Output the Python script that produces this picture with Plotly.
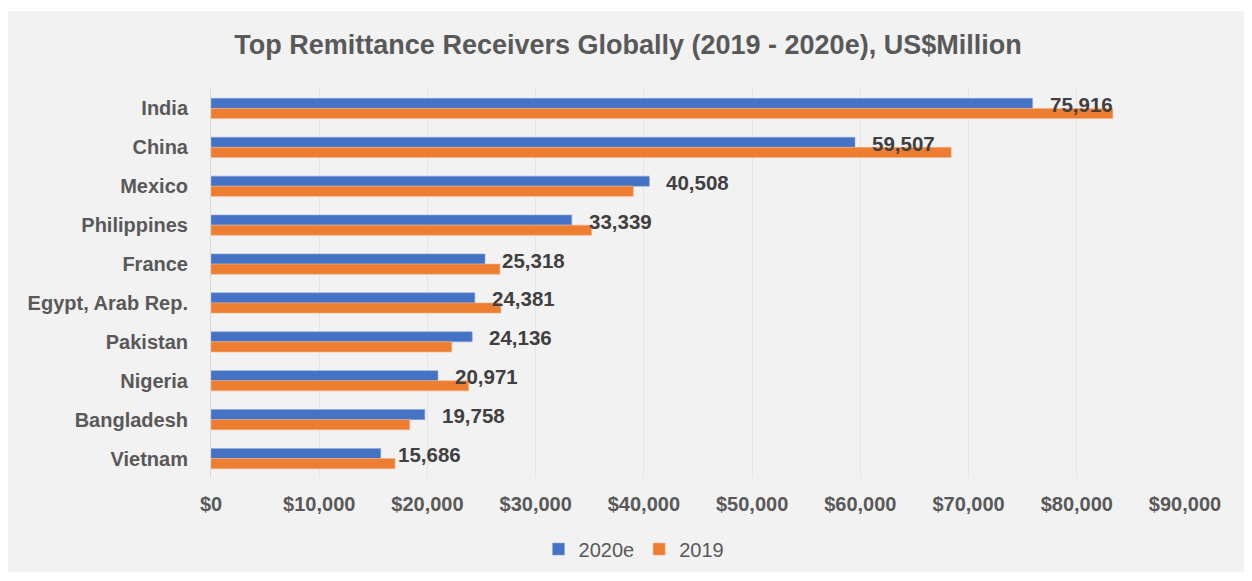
import plotly.graph_objects as go

countries = ["India", "China", "Mexico", "Philippines", "France", "Egypt, Arab Rep.",
             "Pakistan", "Nigeria", "Bangladesh", "Vietnam"]
values_2020e = [75916, 59507, 40508, 33339, 25318, 24381, 24136, 20971, 19758, 15686]
values_2019 = [83332, 68398, 39022, 35167, 26700, 26781, 22252, 23809, 18364, 17000]
x_tickvals = [0, 10000, 20000, 30000, 40000, 50000, 60000, 70000, 80000, 90000]
x_ticktext = ["$0", "$10,000", "$20,000", "$30,000", "$40,000", "$50,000",
              "$60,000", "$70,000", "$80,000", "$90,000"]

BLUE = "#4472C4"
ORANGE = "#ED7D31"
GRAY_TXT = "#595959"
FONT = "Liberation Sans, Arial, sans-serif"

fig = go.Figure()
fig.add_trace(go.Bar(y=countries, x=values_2020e, orientation="h", name="2020e",
                     marker=dict(color=BLUE, line=dict(color="#8FAADC", width=0.6))))
fig.add_trace(go.Bar(y=countries, x=values_2019, orientation="h", name="2019",
                     marker=dict(color=ORANGE, line=dict(color="#F4B183", width=0.6))))

for c, v in zip(countries, values_2020e):
    fig.add_annotation(x=v, y=c, text=f"{v:,}", showarrow=False, xanchor="left",
                       yanchor="middle", xshift=15, yshift=4,
                       font=dict(family=FONT, size=20.5, color="#404040", weight="bold"))

fig.add_shape(type="rect", xref="paper", yref="paper", x0=-0.25, x1=1.1,
              y0=-0.241, y1=1.2005, fillcolor="#F2F2F2", line=dict(width=0), layer="below")

fig.update_layout(
    width=1244, height=573,
    paper_bgcolor="white", plot_bgcolor="rgba(0,0,0,0)",
    margin=dict(l=203, r=67, t=81, b=98),
    barmode="group", bargap=0.48, bargroupgap=0,
    title=dict(text="<b>Top Remittance Receivers Globally (2019 - 2020e), US$Million</b>",
               x=0.4984, xref="container", xanchor="center", y=0.9354, yref="container",
               yanchor="middle", font=dict(family=FONT, size=27, color=GRAY_TXT)),
    legend=dict(orientation="h", x=0.4343, xanchor="center", y=-0.1827, yanchor="middle",
                font=dict(family=FONT, size=20, color=GRAY_TXT), bgcolor="rgba(0,0,0,0)",
                traceorder="normal", itemwidth=30),
    xaxis=dict(range=[0, 90000], tickvals=x_tickvals, ticktext=x_ticktext,
               showgrid=True, gridcolor="#E6E6E6", gridwidth=1, zeroline=False,
               showline=False, ticks="", ticklabelstandoff=12,
               tickfont=dict(family=FONT, size=20, color=GRAY_TXT, weight="bold")),
    yaxis=dict(autorange="reversed", showgrid=False, showline=True, linecolor="#D9D9D9",
               linewidth=1, ticks="", ticklabelstandoff=18,
               tickfont=dict(family=FONT, size=20, color=GRAY_TXT, weight="bold")),
)

fig.write_html("out.html")
